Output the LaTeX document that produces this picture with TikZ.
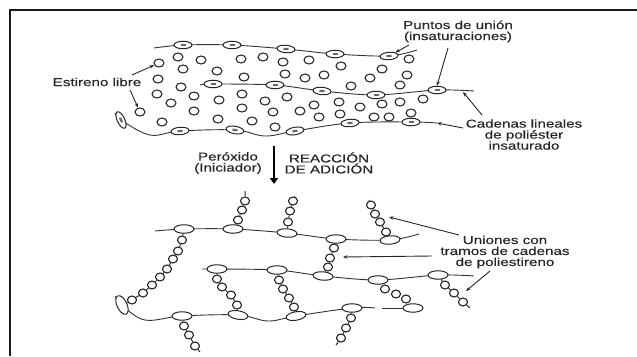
\documentclass[tikz,border=0pt]{standalone}
\usepackage{fontspec}
\setmainfont[FakeStretch=1.32,FakeBold=0.3]{Liberation Sans}
\usetikzlibrary{shapes.geometric,arrows.meta,backgrounds}
\tikzset{
 frameline/.style={line width=2.5pt,color=black!90},
 chain/.style={line width=0.9pt,color=black!80},
 link/.style={line width=1pt,color=black!85},
 free/.style={ellipse,draw=black!85,fill=white,line width=1.1pt,minimum width=10pt,minimum height=8pt,inner sep=0pt},
 bead/.style={free,minimum width=9pt,minimum height=8pt},
 unsat/.style={ellipse,draw=black!85,fill=white,line width=1pt,minimum width=18pt,minimum height=7.5pt,inner sep=0pt},
 joint/.style={ellipse,draw=black!85,fill=white,line width=1pt,minimum width=20pt,minimum height=8.5pt,inner sep=0pt},
 core/.style={fill=black!60,minimum width=5pt,minimum height=2.2pt,inner sep=0pt},
 lbl/.style={font=\fontsize{11.5}{11}\selectfont,text=black!85,align=center,inner sep=0pt},
 pointer/.style={line width=0.9pt,color=black!85,-{Stealth[length=4.5pt,width=3.5pt]}},
 bigarrow/.style={line width=1.6pt,color=black,-{Triangle[length=6pt,width=8pt]}}
}
\newcommand{\uns}[4]{\node[unsat,rotate=#4] (#1) at (#2,#3) {}; \node[core,rotate=#4] at (#1) {};}
\begin{document}
\begin{tikzpicture}[x=1pt,y=-1pt]
\useasboundingbox (0,0) rectangle (637,356);
\coordinate (fa) at (637,10); \coordinate (fb) at (10,10); \coordinate (fc) at (10,356);
\draw[frameline] (fa) -- (fb) -- (fc);

% free styrene
\foreach \x/\y [count=\i] in {178/57,201/60,241/59,263/57,283/62,309/60,159/63,183/69,217/71,285/74,305/78,244/77,158/79,181/87,157/94,194/96,171/103,219/100,242/94,265/101,287/97,194/111,242/108,273/112,300/111,314/105,140/112,218/119,252/121,162/122,275/127,319/117,
 409/59,341/66,382/69,324/75,370/78,351/86,400/85,407/75,423/99,400/102,382/104,360/107,339/102,411/113,389/117,374/117,340/114}
 {\node[free] (s\i) at (\x,\y) {};}

% upper chains
\uns{ua}{183}{45}{0}\uns{ub}{232}{45}{0}\uns{uc}{286}{49}{-5}\uns{ud}{335}{54}{0}\uns{ue}{389}{56}{5}
\uns{va}{213}{84}{0}\uns{vb}{275}{85}{0}\uns{vc}{322}{91}{-5}\uns{vd}{376}{95}{0}\uns{ve}{437}{90}{0}
\uns{wa}{121}{120}{-65}\uns{wb}{180}{131}{5}\uns{wc}{235}{130}{-10}\uns{wd}{295}{131}{10}\uns{we}{350}{123}{5}\uns{wf}{411}{122}{0}
\coordinate (ua0) at (154,48); \coordinate (ue1) at (417,50);
\coordinate (va0) at (200,85); \coordinate (ve1) at (474,91);
\coordinate (wa0) at (115,113); \coordinate (wab) at (150,135); \coordinate (wcd) at (265,136); \coordinate (wf1) at (437,123);
\begin{pgfonlayer}{background}
\draw[chain] plot[smooth,tension=0.5] coordinates {(ua0) (ua) (ub) (uc) (ud) (ue) (ue1)};
\draw[chain] plot[smooth,tension=0.5] coordinates {(va0) (va) (vb) (vc) (vd) (ve) (ve1)};
\draw[chain] plot[smooth,tension=0.6] coordinates {(wa0) (wa) (wab) (wb) (wc) (wcd) (wd) (we) (wf) (wf1)};
\end{pgfonlayer}

% arrow
\node[lbl] (perox) at (228,163) {Peróxido\\(Iniciador)};
\node[lbl] (react) at (329,163) {REACCIÓN\\DE ADICIÓN};
\coordinate (ra) at (274,146); \coordinate (rb) at (274,184);
\draw[bigarrow] (ra) -- (rb);

% lower chains
\node[joint] (aa) at (184,229) {}; \node[joint] (ab) at (233,229) {}; \node[joint,rotate=-5] (ac) at (287,233) {}; \node[joint] (ad) at (336,239) {}; \node[joint,rotate=5] (ae) at (390,240) {};
\node[joint] (ba) at (217,269) {}; \node[joint] (bb) at (277,270) {}; \node[joint,rotate=-5] (bc) at (323,276) {}; \node[joint] (bd) at (378,280) {}; \node[joint] (be) at (438,275) {};
\node[joint,rotate=-65,minimum width=20pt,minimum height=10pt] (ca) at (122,305) {}; \node[joint] (cb) at (182,316) {}; \node[joint,rotate=-10] (cc) at (238,315) {}; \node[joint,rotate=10] (cd) at (296,316) {}; \node[joint] (ce) at (352,308) {}; \node[joint] (cf) at (413,308) {};
\coordinate (aa0) at (155,231); \coordinate (ae1) at (419,234);
\coordinate (ba0) at (202,269); \coordinate (be1) at (474,276);
\coordinate (ca0) at (115,296); \coordinate (cab) at (145,320); \coordinate (ccd) at (268,321);
\coordinate (cgapa) at (375,308); \coordinate (cgapb) at (382,308);

% beads
\foreach \n/\x/\y in {
 pa/238/220,pb/242/210,pc/245/201,
 qa/288/222,qb/290/211,qc/293/201,
 ra1/182/240,ra2/178/251,ra3/173/259,ra4/167/269,ra5/160/277,ra6/152/285,ra7/143/293,ra8/132/300,
 sa/217/279,sb/222/287,sc/231/295,sd/237/305,
 ta/279/280,tb/283/289,tc/289/298,td/294/307,
 ua1/184/326,ub1/189/335,uc1/195/346,
 xa/386/232,xb/380/222,xc/375/214,xd/371/205,
 ya/334/248,yb/330/258,yc/328/267,
 za/445/285,zb/454/293,zc/463/302,
 ga/385/289,gb/396/294,gc/406/299,
 ka/351/318,kb/346/328,kc/341/338}
 {\node[bead] (\n) at (\x,\y) {};}
\coordinate (pt) at (245,191); \coordinate (qt) at (295,196); \coordinate (ut) at (200,352);
\coordinate (xt) at (369,200); \coordinate (zt) at (470,308); \coordinate (kt) at (336,345);

\begin{pgfonlayer}{background}
\draw[chain] plot[smooth,tension=0.5] coordinates {(aa0) (aa) (ab) (ac) (ad) (ae) (ae1)};
\draw[chain] plot[smooth,tension=0.5] coordinates {(ba0) (ba) (bb) (bc) (bd) (be) (be1)};
\draw[chain] plot[smooth,tension=0.6] coordinates {(ca0) (ca) (cab) (cb) (cc) (ccd) (cd) (ce) (cgapa)};
\draw[chain] (cgapb) -- (cf);
\draw[link] (ab) -- (pa) -- (pb) -- (pc) -- (pt);
\draw[link] (ac) -- (qa) -- (qb) -- (qc) -- (qt);
\draw[link] (aa) -- (ra1) -- (ra2) -- (ra3) -- (ra4) -- (ra5) -- (ra6) -- (ra7) -- (ra8) -- (ca);
\draw[link] (ba) -- (sa) -- (sb) -- (sc) -- (sd) -- (cc);
\draw[link] (bb) -- (ta) -- (tb) -- (tc) -- (td) -- (cd);
\draw[link] (cb) -- (ua1) -- (ub1) -- (uc1) -- (ut);
\draw[link] (ae) -- (xa) -- (xb) -- (xc) -- (xd) -- (xt);
\draw[link] (ad) -- (ya) -- (yb) -- (yc) -- (bc);
\draw[link] (be) -- (za) -- (zb) -- (zc) -- (zt);
\draw[link] (ce) -- (ka) -- (kb) -- (kc) -- (kt);
\end{pgfonlayer}

% labels
\node[lbl] (est) at (97,82) {Estireno libre};
\node[lbl] (pun) at (458,31.5) {Puntos de unión\\(insaturaciones)};
\node[lbl] (cad) at (524,134.5) {Cadenas lineales\\de poliéster\\insaturado};
\node[lbl] (uni) at (505,252) {Uniones con\\tramos de cadenas\\de poliestireno};

\coordinate (e1) at (132,75); \coordinate (e2) at (130,90);
\draw[pointer] (e1) -- (s7);
\draw[pointer] (e2) -- (s27);
\coordinate (p1) at (409,45); \coordinate (p2) at (448,48);
\draw[pointer] (p1) -- (ue.north east);
\draw[pointer] (p2) -- (ve.north);
\coordinate (c1) at (482,115); \coordinate (c1t) at (463,92); \coordinate (c2) at (463,128);
\draw[pointer] (c1) -- (c1t);
\draw[pointer] (c2) -- (wf1);
\coordinate (n1) at (459,235); \coordinate (n1t) at (389,217);
\coordinate (n2) at (432,256); \coordinate (n2t) at (343,257);
\coordinate (n3) at (490,271); \coordinate (n3t) at (466,291);
\draw[pointer] (n1) -- (n1t);
\draw[pointer] (n2) -- (n2t);
\draw[pointer] (n3) -- (n3t);
\end{tikzpicture}
\end{document}
